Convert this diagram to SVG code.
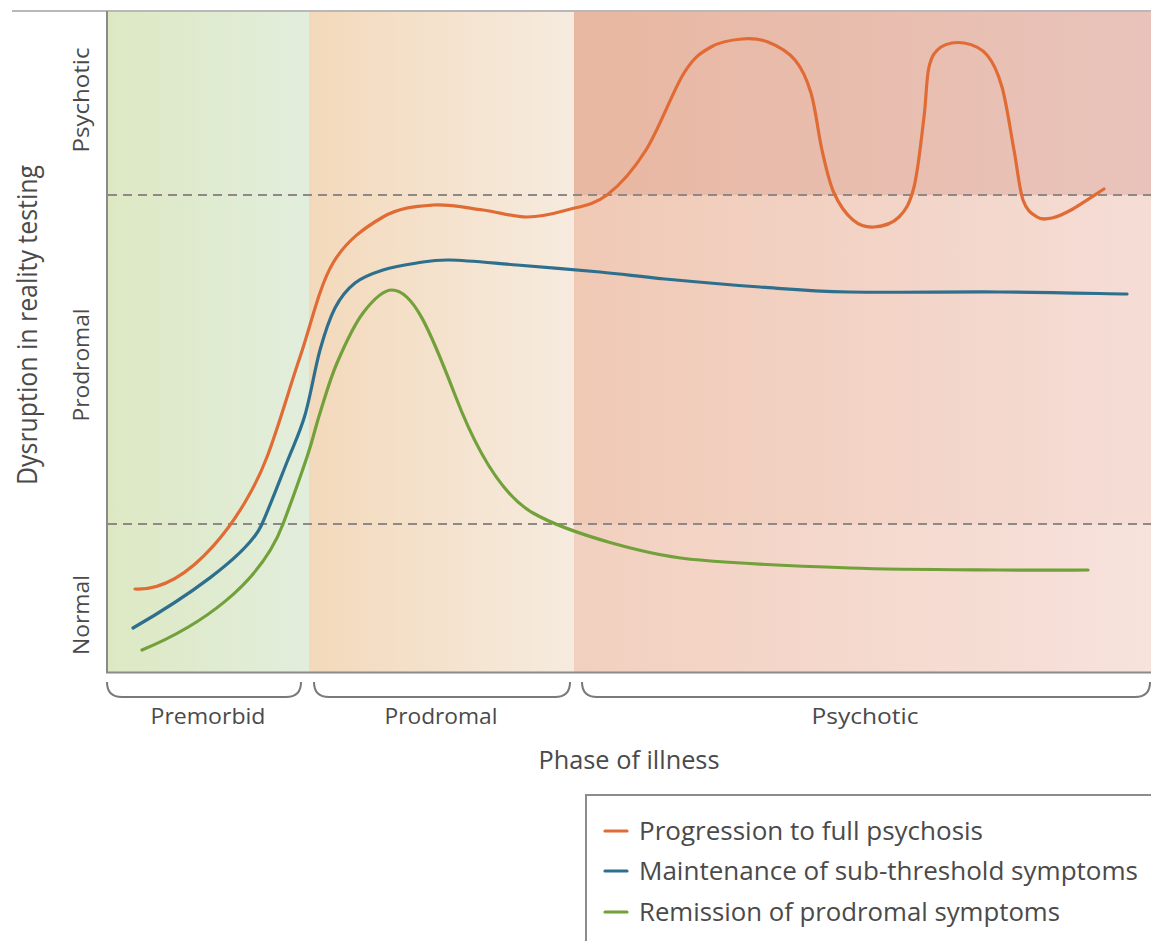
<svg xmlns="http://www.w3.org/2000/svg" width="1151" height="941" viewBox="0 0 1151 941">
  <defs>
    <linearGradient id="gPremorbid" x1="0" y1="0" x2="1" y2="0">
      <stop offset="0" stop-color="#dde8c3"/>
      <stop offset="1" stop-color="#e2eedc"/>
    </linearGradient>
    <linearGradient id="gProdromal" x1="0" y1="0" x2="1" y2="0">
      <stop offset="0" stop-color="#f3d9bb"/>
      <stop offset="1" stop-color="#f6ebdf"/>
    </linearGradient>
    <linearGradient id="gPsyTop" x1="0" y1="0" x2="1" y2="0">
      <stop offset="0" stop-color="#e8b7a1"/>
      <stop offset="1" stop-color="#e9c3bb"/>
    </linearGradient>
    <linearGradient id="gPsyMid" x1="0" y1="0" x2="1" y2="0">
      <stop offset="0" stop-color="#f0c9b5"/>
      <stop offset="1" stop-color="#f5ddd6"/>
    </linearGradient>
    <linearGradient id="gPsyLow" x1="0" y1="0" x2="1" y2="0">
      <stop offset="0" stop-color="#f2d0bf"/>
      <stop offset="1" stop-color="#f7e2dc"/>
    </linearGradient>
  </defs>
  <style>
    .lbl { font-family: "Open Sans", "Liberation Sans", sans-serif; fill: #4a4a4a; }
    .axis { stroke: #8a8a8a; stroke-width: 2; fill: none; }
    .dash { stroke: #8e8886; stroke-width: 2; stroke-dasharray: 9 6; fill: none; }
    .brace { stroke: #7a7a7a; stroke-width: 2; fill: none; }
    .curve { fill: none; stroke-width: 3.2; stroke-linecap: round; stroke-linejoin: round; }
    .orange { stroke: #e06b34; }
    .blue { stroke: #2f6f8e; }
    .green { stroke: #72a03a; }
  </style>

  <rect width="1151" height="941" fill="#ffffff"/>

  <!-- phase bands -->
  <g id="bands">
    <rect x="107" y="11" width="202" height="661" fill="url(#gPremorbid)"/>
    <rect x="309" y="11" width="265" height="661" fill="url(#gProdromal)"/>
    <rect x="574" y="11" width="577" height="184" fill="url(#gPsyTop)"/>
    <rect x="574" y="195" width="577" height="329" fill="url(#gPsyMid)"/>
    <rect x="574" y="524" width="577" height="148" fill="url(#gPsyLow)"/>
  </g>

  <!-- frame, axes and threshold lines -->
  <g id="axes">
    <line x1="12" y1="11" x2="1151" y2="11" stroke="#b8b8b8" stroke-width="2"/>
    <line x1="107" y1="11" x2="107" y2="673" class="axis"/>
    <line x1="106" y1="672.5" x2="1151" y2="672.5" class="axis"/>
    <line x1="108" y1="195" x2="1151" y2="195" class="dash"/>
    <line x1="108" y1="524" x2="1151" y2="524" class="dash"/>
  </g>

  <!-- trajectories -->
  <g id="connectors">
    <path id="progression" class="curve orange" d="M135,589
      C190,592 245,515 267,457
      C279,425.4 289,389.3 300,357
      C311,324.7 319.2,286.3 333,263
      C346.8,239.7 366.3,226.7 383,217
      C399.7,207.3 416.3,206.2 433,205
      C449.7,203.8 467.3,208 483,210
      C498.7,212 513,217 527,217
      C541,217 553.7,213.7 567,210
      C580.3,206.3 593.8,205 607,195
      C620.2,185 633.2,170.3 646,150
      C658.8,129.7 673.2,90.2 684,73
      C694.8,55.8 701.3,52.7 711,47
      C720.7,41.3 732.5,39.8 742,39
      C751.5,38.2 759.2,38.5 768,42
      C776.8,45.5 787.8,51.5 795,60
      C802.2,68.5 806.5,78 811,93
      C815.5,108 818.2,133.3 822,150
      C825.8,166.7 828.8,181.3 834,193
      C839.2,204.7 846.3,214.3 853,220
      C859.7,225.7 866.3,227.5 874,227
      C881.7,226.5 892.3,223.7 899,217
      C905.7,210.3 909.8,203.7 914,187
      C918.2,170.3 921.5,137 924,117
      C926.5,97 926.2,78.7 929,67
      C931.8,55.3 935.2,51 941,47
      C946.8,43 956.3,41.7 964,43
      C971.7,44.3 980.7,47.7 987,55
      C993.3,62.3 997.5,71.2 1002,87
      C1006.5,102.8 1010.5,131.2 1014,150
      C1017.5,168.8 1019.2,188.8 1023,200
      C1026.8,211.2 1032.2,214 1037,217
      C1041.8,220 1046.3,219.2 1052,218
      C1057.7,216.8 1062.3,214.8 1071,210
      C1079.7,205.2 1098.5,192.5 1104,189"/>
    <path id="maintenance" class="curve blue" d="M133,628
      C180,601 248,556 262,524
      C271,503.5 279.8,480.2 287,462
      C294.2,443.8 299.5,433.7 305,415
      C310.5,396.3 315,367.8 320,350
      C325,332.2 329.2,319.2 335,308
      C340.8,296.8 347,289.3 355,283
      C363,276.7 372.7,273.3 383,270
      C393.3,266.7 405.8,264.7 417,263
      C428.2,261.3 433.3,259.7 450,260
      C466.7,260.3 492,263 517,265
      C542,267 575.3,269.7 600,272
      C624.7,274.3 638.3,276.5 665,279
      C691.7,281.5 729.3,284.8 760,287
      C790.7,289.2 809,291.2 849,292
      C889,292.8 953.7,291.7 1000,292
      C1046.3,292.3 1105.8,293.7 1127,294"/>
    <path id="remission" class="curve green" d="M142,650
      C200,626 260,585 283,524
      C291,502.8 300.8,475.5 307,457
      C313.2,438.5 315,428.7 320,413
      C325,397.3 329.8,379.7 337,363
      C344.2,346.3 353.8,325.2 363,313
      C372.2,300.8 382.5,290 392,290
      C413,290 430,330 455,395
      C478,455 505,497 533,513
      C568,533 650,556.5 700,560
      C741.7,563.8 800,566.3 850,568
      C900,569.7 960.3,569.7 1000,570
      C1039.7,570.3 1073.3,570 1088,570"/>
  </g>

  <!-- y axis labels -->
  <g id="y-labels">
    <text class="lbl" transform="translate(37,325) rotate(-90)" text-anchor="middle" font-size="27" textLength="320" lengthAdjust="spacingAndGlyphs">Dysruption in reality testing</text>
    <text class="lbl" transform="translate(89,100) rotate(-90)" text-anchor="middle" font-size="22" textLength="105" lengthAdjust="spacingAndGlyphs">Psychotic</text>
    <text class="lbl" transform="translate(89,365) rotate(-90)" text-anchor="middle" font-size="22" textLength="113" lengthAdjust="spacingAndGlyphs">Prodromal</text>
    <text class="lbl" transform="translate(89,615) rotate(-90)" text-anchor="middle" font-size="22" textLength="80" lengthAdjust="spacingAndGlyphs">Normal</text>
  </g>

  <!-- phase braces and labels -->
  <g id="phase-premorbid">
    <path class="brace" d="M107,682 C107,692 112,697 122,697 L286,697 C296,697 301,692 301,682"/>
    <text class="lbl" x="208" y="724" text-anchor="middle" font-size="22" textLength="115" lengthAdjust="spacingAndGlyphs">Premorbid</text>
  </g>
  <g id="phase-prodromal">
    <path class="brace" d="M314,682 C314,692 319,697 329,697 L555,697 C565,697 570,692 570,682"/>
    <text class="lbl" x="441" y="724" text-anchor="middle" font-size="22" textLength="113" lengthAdjust="spacingAndGlyphs">Prodromal</text>
  </g>
  <g id="phase-psychotic">
    <path class="brace" d="M582,682 C582,692 587,697 597,697 L1135,697 C1145,697 1150,692 1150,682"/>
    <text class="lbl" x="865" y="724" text-anchor="middle" font-size="22" textLength="107" lengthAdjust="spacingAndGlyphs">Psychotic</text>
  </g>
  <g id="x-title">
    <text class="lbl" x="629" y="769" text-anchor="middle" font-size="25" textLength="181" lengthAdjust="spacingAndGlyphs">Phase of illness</text>
  </g>

  <!-- legend -->
  <g id="legend">
    <rect x="586" y="795" width="600" height="200" fill="#ffffff" stroke="#8c8c8c" stroke-width="2"/>
    <line x1="605" y1="831" x2="627" y2="831" class="curve orange"/>
    <line x1="605" y1="871" x2="627" y2="871" class="curve blue"/>
    <line x1="605" y1="912" x2="627" y2="912" class="curve green"/>
    <text class="lbl" x="639" y="840" font-size="25" fill="#3a3a3a" textLength="344" lengthAdjust="spacingAndGlyphs">Progression to full psychosis</text>
    <text class="lbl" x="639" y="880" font-size="25" fill="#3a3a3a" textLength="499" lengthAdjust="spacingAndGlyphs">Maintenance of sub-threshold symptoms</text>
    <text class="lbl" x="639" y="921" font-size="25" fill="#3a3a3a" textLength="421" lengthAdjust="spacingAndGlyphs">Remission of prodromal symptoms</text>
  </g>
</svg>
